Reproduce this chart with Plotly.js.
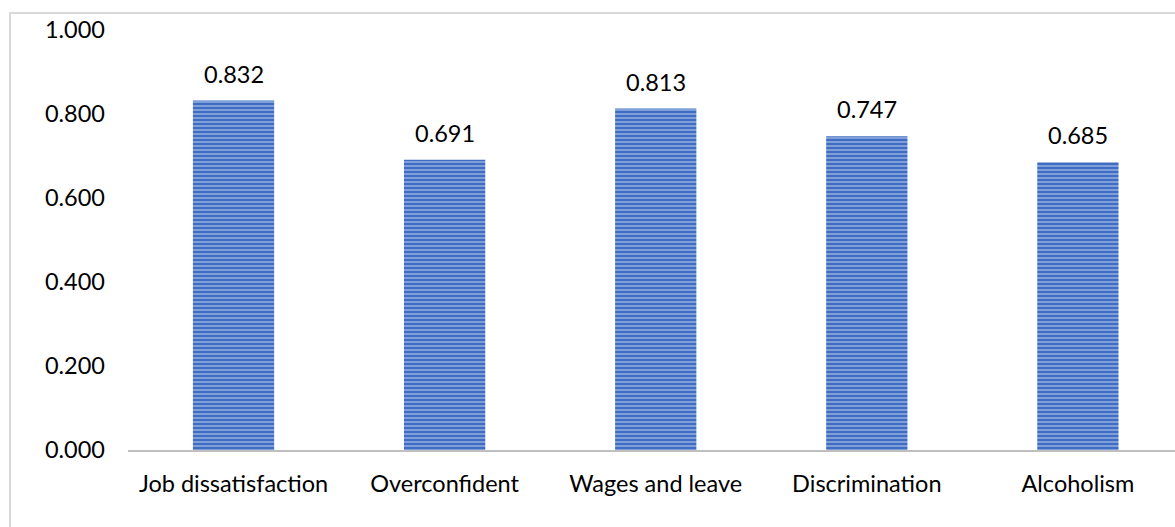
<!DOCTYPE html>
<html><head><meta charset="utf-8">
<script src="https://cdn.plot.ly/plotly-3.0.1.min.js"></script>
<style>html,body{margin:0;padding:0;background:#fff}#chart{width:1175px;height:527px}</style>
</head><body><div id="chart"></div>
<script>
const categories = ["Job dissatisfaction","Overconfident","Wages and leave","Discrimination","Alcoholism"];
const values = [0.832, 0.691, 0.813, 0.747, 0.685];
const tickValues = [0, 0.2, 0.4, 0.6, 0.8, 1.0];
const tickLabels = ["0.000","0.200","0.400","0.600","0.800","1.000"];

const font = {family: "Lato, Open Sans, sans-serif", size: 23.5, color: "#000"};

const trace = {
  type: "bar", x: categories, y: values, width: 0.385,
  marker: {color: "#9bb6e6", line: {width: 0},
    pattern: {shape: "-", fgcolor: "#3f6dc2", fgopacity: 1, bgcolor: "#a8c0ea", size: 4, solidity: 0.7, fillmode: "overlay"}},
  hoverinfo: "none"
};

const annotations = categories.map((c, i) => ({
  x: c, y: values[i], xref: "x", yref: "y", text: values[i].toFixed(3),
  showarrow: false, yanchor: "bottom", yshift: 11, font: font
}));

const layout = {
  width: 1175, height: 527,
  margin: {l: 128, r: 0, t: 30, b: 77},
  paper_bgcolor: "#fff", plot_bgcolor: "#fff",
  showlegend: false, font: font,
  xaxis: {type: "category", range: [-0.5, 4.46], showgrid: false, zeroline: false,
    showline: true, linecolor: "#bfbfbf", linewidth: 2, ticks: "", tickfont: font, ticklabelstandoff: 12},
  yaxis: {range: [0, 1], tickvals: tickValues, ticktext: tickLabels, showgrid: false,
    zeroline: false, showline: false, ticks: "", tickfont: font, ticklabelstandoff: 22},
  annotations: annotations,
  shapes: [{type: "rect", xref: "paper", yref: "paper",
    x0: -118/1047, x1: 1.5/1047 + 1, y0: -0.5, y1: 1 + 17/420,
    line: {color: "#d9d9d9", width: 2}, layer: "below"}]
};

Plotly.newPlot("chart", [trace], layout, {staticPlot: true, displayModeBar: false});
</script></body></html>
